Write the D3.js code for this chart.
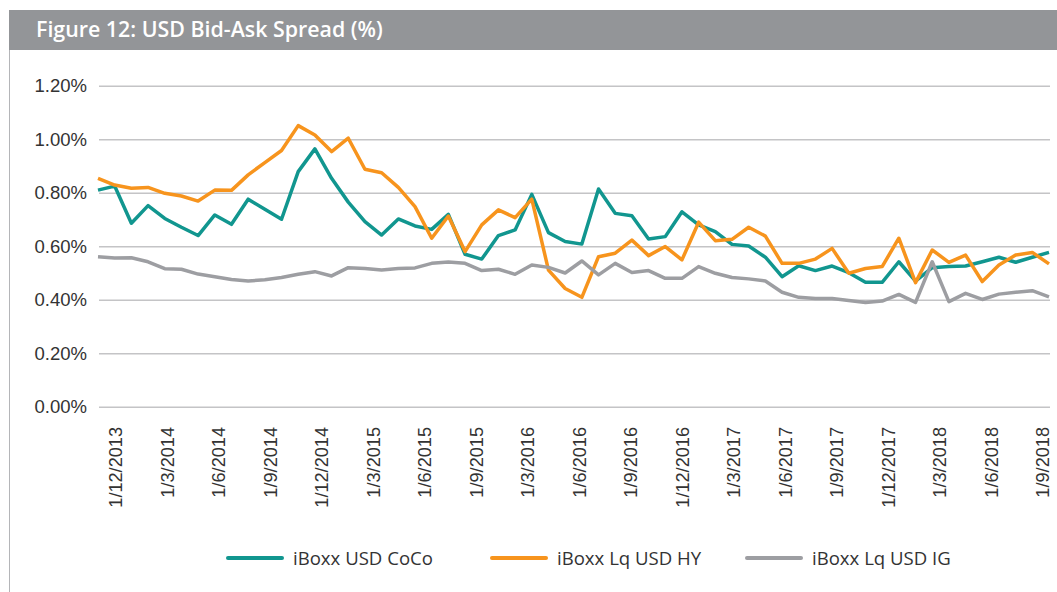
<!DOCTYPE html>
<html>
<head>
<meta charset="utf-8">
<script src="https://cdn.jsdelivr.net/npm/d3@7"></script>
<style>
  body { margin: 0; background: #fff; }
  svg { display: block; font-family: "Open Sans", "Noto Sans", sans-serif; }
</style>
</head>
<body>
<svg id="chart" width="1057" height="592"></svg>
<script>
// monthly points, Dec 2013 .. Sep 2018
const months = d3.range(58).map(i => new Date(2013, 11 + i, 1));

const tickLabels = ["1/12/2013", "1/3/2014", "1/6/2014", "1/9/2014", "1/12/2014", "1/3/2015",
  "1/6/2015", "1/9/2015", "1/3/2016", "1/6/2016", "1/9/2016", "1/12/2016", "1/3/2017",
  "1/6/2017", "1/9/2017", "1/12/2017", "1/3/2018", "1/6/2018", "1/9/2018"];

const yTicks = [0, 0.2, 0.4, 0.6, 0.8, 1.0, 1.2];

const coco = [0.810, 0.825, 0.686, 0.752, 0.704, 0.671, 0.640, 0.717, 0.682, 0.776,
  0.738, 0.701, 0.879, 0.964, 0.854, 0.765, 0.692, 0.642, 0.702, 0.676,
  0.663, 0.719, 0.570, 0.552, 0.640, 0.661, 0.794, 0.651, 0.618, 0.608,
  0.814, 0.723, 0.714, 0.627, 0.636, 0.729, 0.680, 0.655, 0.607, 0.601,
  0.559, 0.486, 0.527, 0.509, 0.526, 0.501, 0.465, 0.465, 0.542, 0.470,
  0.520, 0.524, 0.526, 0.542, 0.559, 0.540, 0.559, 0.577];

const hy = [0.854, 0.829, 0.817, 0.820, 0.798, 0.788, 0.769, 0.810, 0.809, 0.867,
  0.913, 0.958, 1.051, 1.016, 0.954, 1.004, 0.888, 0.875, 0.820, 0.748,
  0.630, 0.713, 0.580, 0.680, 0.736, 0.707, 0.776, 0.511, 0.442, 0.409,
  0.561, 0.574, 0.623, 0.565, 0.599, 0.549, 0.690, 0.621, 0.626, 0.671,
  0.638, 0.536, 0.536, 0.552, 0.592, 0.499, 0.517, 0.524, 0.630, 0.464,
  0.586, 0.540, 0.567, 0.468, 0.530, 0.567, 0.577, 0.534];

const ig = [0.561, 0.556, 0.557, 0.542, 0.516, 0.514, 0.496, 0.486, 0.476, 0.470,
  0.475, 0.483, 0.495, 0.505, 0.489, 0.520, 0.517, 0.511, 0.517, 0.519,
  0.536, 0.541, 0.536, 0.509, 0.514, 0.495, 0.530, 0.521, 0.500, 0.545,
  0.493, 0.536, 0.502, 0.509, 0.480, 0.480, 0.524, 0.499, 0.483, 0.478,
  0.470, 0.428, 0.409, 0.405, 0.405, 0.397, 0.390, 0.395, 0.420, 0.390,
  0.542, 0.393, 0.424, 0.401, 0.421, 0.428, 0.434, 0.411];

const seriesNames = ["iBoxx USD CoCo", "iBoxx Lq USD HY", "iBoxx Lq USD IG"];
const seriesColors = ["#11968f", "#f7941d", "#9d9ea2"];
const series = [coco, hy, ig];

const svg = d3.select("#chart");

// pick a font size so a sample string comes out at the wanted width
function fitSize(sample, width, weight) {
  const t = svg.append("text").attr("font-size", 100).attr("font-weight", weight || 400).text(sample);
  const w = t.node().getComputedTextLength();
  t.remove();
  return 100 * width / w;
}
const titleSize = fitSize("Figure 12: USD Bid-Ask Spread (%)", 347, 600);
const yLabSize = fitSize("1.20%", 52);
const xLabSize = fitSize("1/12/2013", 86);
const legSize = fitSize("iBoxx USD CoCo", 140);

// header bar + left frame line
svg.append("rect").attr("x", 9).attr("y", 10).attr("width", 1048).attr("height", 40)
  .attr("fill", "#939598");
svg.append("line").attr("x1", 9.5).attr("x2", 9.5).attr("y1", 50).attr("y2", 592)
  .attr("stroke", "#b4b5b8").attr("stroke-width", 1);
svg.append("text").attr("x", 36).attr("y", 37)
  .attr("fill", "#fff").attr("font-size", titleSize).attr("font-weight", 600)
  .text("Figure 12: USD Bid-Ask Spread (%)");

const x = d3.scalePoint().domain(months).range([98, 1049]);
const y = d3.scaleLinear().domain([0, 1.2]).range([406.7, 85.8]);
const xLab = d3.scalePoint().domain(tickLabels).range([115, 1042]);

// y axis with gridlines
const yAxis = svg.append("g").attr("transform", "translate(99,0)")
  .call(d3.axisLeft(y).tickValues(yTicks).tickSize(-951).tickPadding(12)
    .tickFormat(d => d.toFixed(2) + "%"));
yAxis.select(".domain").remove();
yAxis.selectAll(".tick line").attr("stroke", "#c4c4c6").attr("stroke-width", 1.5);
yAxis.selectAll(".tick text").attr("fill", "#333").attr("font-size", yLabSize)
  .attr("font-family", null);

// x labels
const xAxis = svg.append("g").attr("transform", "translate(0,427)")
  .call(d3.axisBottom(xLab).tickSize(0).tickPadding(0));
xAxis.select(".domain").remove();
xAxis.selectAll(".tick text")
  .attr("transform", "rotate(-90)")
  .attr("text-anchor", "end")
  .attr("x", 0).attr("y", 0).attr("dy", "0.36em")
  .attr("fill", "#333").attr("font-size", xLabSize)
  .attr("font-family", null);

// lines
const line = d3.line().x((d, i) => x(months[i])).y(d => y(d));
series.forEach((s, i) => {
  svg.append("path").datum(s)
    .attr("d", line)
    .attr("fill", "none")
    .attr("stroke", seriesColors[i])
    .attr("stroke-width", 3.5)
    .attr("stroke-linejoin", "round");
});

// legend
const legendX = [228, 492, 747];
const legend = svg.append("g");
seriesNames.forEach((n, i) => {
  const g = legend.append("g").attr("transform", `translate(${legendX[i]},558)`);
  g.append("line").attr("x1", 0).attr("x2", 54)
    .attr("stroke", seriesColors[i]).attr("stroke-width", 4).attr("stroke-linecap", "round");
  g.append("text").attr("x", 65).attr("dy", "0.35em")
    .attr("font-size", legSize).attr("fill", "#333").text(n);
});
</script>
</body>
</html>
